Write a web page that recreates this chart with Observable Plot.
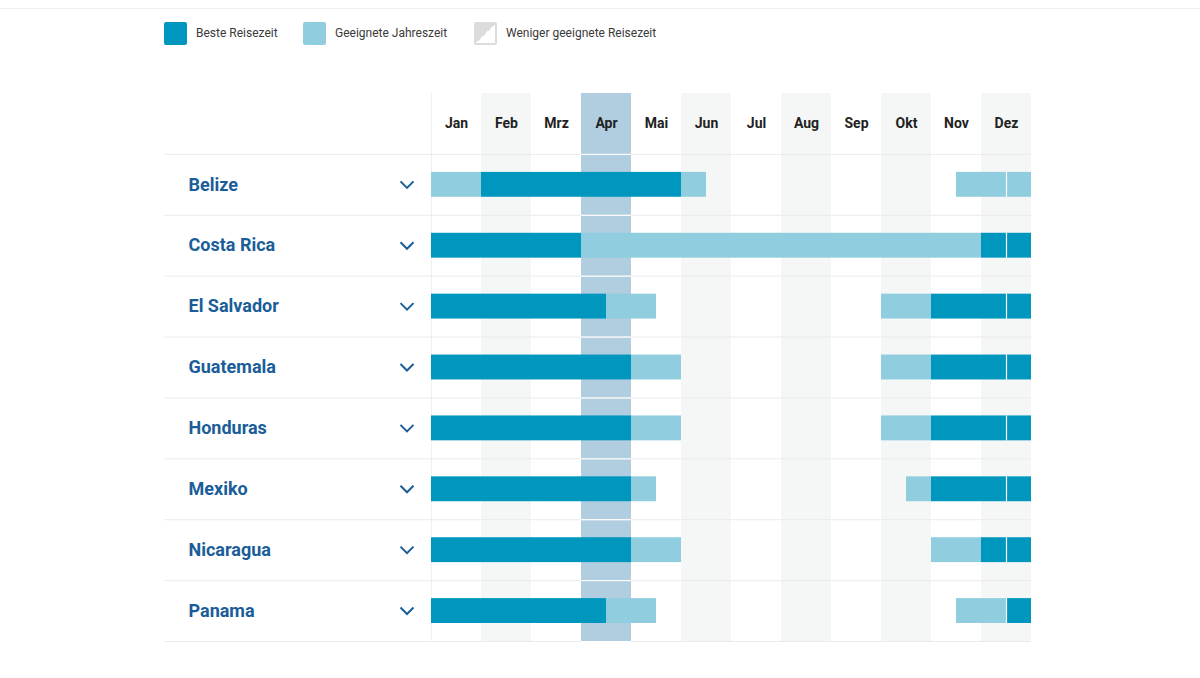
<!DOCTYPE html>
<html>
<head>
<meta charset="utf-8">
<script src="https://cdn.jsdelivr.net/npm/d3@7"></script>
<script src="https://cdn.jsdelivr.net/npm/@observablehq/plot@0.6"></script>
<style>
  html, body { margin: 0; padding: 0; background: #fff; font-family: Roboto, "Noto Sans", sans-serif; }
  #wrap { position: relative; width: 1200px; height: 678px; overflow: hidden; }
  #topline { position: absolute; left: 0; top: 8px; width: 1200px; height: 0; border-top: 1px solid #eeeeee; }
  #legend { position: absolute; left: 0; top: 0; width: 1200px; height: 93px; }
  .sw { position: absolute; top: 22px; width: 23px; height: 23px; border-radius: 2px; box-sizing: border-box; }
  .lt { position: absolute; top: 25px; font-size: 12px; line-height: 16px; color: #3a3a3a; white-space: nowrap; }
  #chart { position: absolute; left: 0; top: 93px; line-height: 0; }
  #chart svg { display: block; }
</style>
</head>
<body>
<div id="wrap">
  <div id="topline"></div>
  <div id="legend"></div>
  <div id="chart"></div>
</div>
<script>
// ---- data ----
const months = ["Jan", "Feb", "Mrz", "Apr", "Mai", "Jun", "Jul", "Aug", "Sep", "Okt", "Nov", "Dez"];
const currentMonth = "Apr";
const countries = ["Belize", "Costa Rica", "El Salvador", "Guatemala", "Honduras", "Mexiko", "Nicaragua", "Panama"];
// travel rating per half month (24 halves): B = beste Reisezeit, G = geeignet, - = weniger geeignet
const ratings = [
  "GGBBBBBBBBG----------GGG",
  "BBBBBBGGGGGGGGGGGGGGGGBB",
  "BBBBBBBGG---------GGBBBB",
  "BBBBBBBBGG--------GGBBBB",
  "BBBBBBBBGG--------GGBBBB",
  "BBBBBBBBG----------GBBBB",
  "BBBBBBBBGG----------GGBB",
  "BBBBBBBGG------------GGB"
];
const legendLabels = ["Beste Reisezeit", "Geeignete Jahreszeit", "Weniger geeignete Reisezeit"];
const colorBest = "#0097bf";
const colorGood = "#8fcddf";

// ---- legend ----
const legend = document.getElementById("legend");
const legendPos = [[164, 196], [303, 335], [474, 506]];
legendLabels.forEach((lab, i) => {
  const sw = document.createElement("div");
  sw.className = "sw";
  sw.style.left = legendPos[i][0] + "px";
  if (i === 0) sw.style.background = colorBest;
  else if (i === 1) sw.style.background = colorGood;
  else {
    sw.style.border = "2px solid #dcdcdc";
    sw.style.background = "linear-gradient(135deg, #dcdcdc 50%, #ffffff 50%)";
  }
  legend.appendChild(sw);
  const t = document.createElement("div");
  t.className = "lt";
  t.style.left = legendPos[i][1] + "px";
  t.textContent = lab;
  legend.appendChild(t);
});

// ---- build segments from ratings ----
const segments = [];
countries.forEach((c, ci) => {
  const r = ratings[ci];
  let start = 0;
  for (let k = 1; k <= r.length; k++) {
    if (k === r.length || r[k] !== r[start]) {
      if (r[start] !== "-") segments.push({country: c, x1: start / 2, x2: k / 2, type: r[start]});
      start = k;
    }
  }
});
const splitRows = countries.filter((c, ci) => ratings[ci][23] !== "-");

const yDomain = ["", ...countries];
const plotHeight = 585, mb = 37;
const bw = (plotHeight - mb) / yDomain.length;
const monthIdx = months.map((m, i) => i);
const shaded = monthIdx.filter(i => i % 2 === 1 && months[i] !== currentMonth);
const cur = months.indexOf(currentMonth);

const chevron = {
  draw(ctx) {
    ctx.moveTo(-6.5, -3.5);
    ctx.lineTo(0, 3);
    ctx.lineTo(6.5, -3.5);
  }
};

const plot = Plot.plot({
  width: 1200,
  height: plotHeight,
  marginLeft: 164,
  marginRight: 169,
  marginTop: 0,
  marginBottom: mb,
  style: {fontFamily: "Roboto, sans-serif", background: "transparent", overflow: "visible"},
  x: {domain: [0, 12], range: [431, 1031], axis: null},
  y: {type: "band", domain: yDomain, padding: 0, round: false, axis: null},
  color: {domain: ["B", "G"], range: [colorBest, colorGood]},
  marks: [
    // alternating column shading
    Plot.rect(shaded, {x1: d => d, x2: d => d + 1, fill: "#f5f7f7"}),
    // current month highlight
    Plot.rect([cur], {x1: d => d, x2: d => d + 1, fill: "#b1cde0"}),
    // left border of the calendar
    Plot.ruleX([0], {x: d => d, stroke: "#f0f0f0"}),
    // row separators
    Plot.ruleY(yDomain, {y: d => d, dy: bw / 2, stroke: "#ebebeb"}),
    Plot.ruleY(yDomain, {y: d => d, dy: bw / 2, x1: () => cur, x2: () => cur + 1, stroke: "#ffffff"}),
    // month labels
    Plot.text(months, {x: (d, i) => i + 0.5, y: () => "", text: d => d, fontSize: 14, fontWeight: "bold", fill: "#222"}),
    // country names
    Plot.text(countries, {y: d => d, frameAnchor: "left", dx: 24, text: d => d, textAnchor: "start", fontSize: 18, fontWeight: "bold", fill: "#1a5d98"}),
    // chevrons
    Plot.dot(countries, {y: d => d, frameAnchor: "left", dx: 242.5, symbol: chevron, fill: "none", stroke: "#1a5d98", strokeWidth: 2, strokeLinecap: "butt"}),
    // bars
    Plot.rect(segments, {x1: "x1", x2: "x2", y: "country", fill: "type", insetTop: 18, insetBottom: 18}),
    // white divider within December
    Plot.tickX(splitRows, {x: () => 11.5, y: d => d, stroke: "#ffffff", strokeWidth: 1.2, insetTop: 18, insetBottom: 18})
  ]
});
document.getElementById("chart").appendChild(plot);
</script>
</body>
</html>
